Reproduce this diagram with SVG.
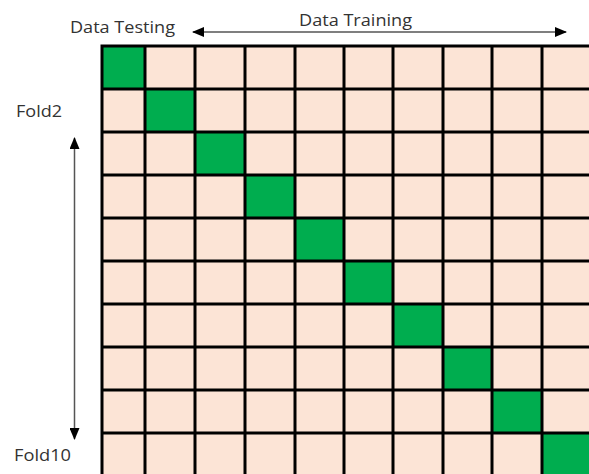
<svg xmlns="http://www.w3.org/2000/svg" width="589" height="474" viewBox="0 0 589 474">
  <defs>
    <style>
      .cell { fill: #FCE4D6; }
      .test { fill: #00AD4F; }
      .grid { stroke: #000; stroke-width: 3; fill: none; }
      .label { font-family: "Open Sans", "Liberation Sans", sans-serif; font-size: 16px; fill: #333; }
      .arrow { stroke: #555; stroke-width: 1.5; fill: none; }
    </style>
    <marker id="head" viewBox="0 0 12 10" refX="11" refY="5" markerWidth="12" markerHeight="10" markerUnits="userSpaceOnUse" orient="auto-start-reverse">
      <path d="M0,0 L12,5 L0,10 z" fill="#000"/>
    </marker>
  </defs>

  <rect width="589" height="474" fill="#fff"/>

  <!-- 10 x 10 fold grid -->
  <g id="grid">
    <rect class="cell" x="102" y="46" width="490" height="430"/>
    <g id="test-cells">
      <rect class="test" x="102" y="46" width="43" height="43"/>
      <rect class="test" x="145" y="89" width="50" height="43"/>
      <rect class="test" x="195" y="132" width="50" height="43"/>
      <rect class="test" x="245" y="175" width="50" height="43"/>
      <rect class="test" x="295" y="218" width="49" height="43"/>
      <rect class="test" x="344" y="261" width="49" height="43"/>
      <rect class="test" x="393" y="304" width="50" height="43"/>
      <rect class="test" x="443" y="347" width="49" height="43"/>
      <rect class="test" x="492" y="390" width="50" height="43"/>
      <rect class="test" x="542" y="433" width="50" height="43"/>
    </g>
    <path class="grid" d="M102,46 V476 M145,46 V476 M195,46 V476 M245,46 V476 M295,46 V476 M344,46 V476 M393,46 V476 M443,46 V476 M492,46 V476 M542,46 V476
                          M100.5,46 H592 M100.5,89 H592 M100.5,132 H592 M100.5,175 H592 M100.5,218 H592 M100.5,261 H592 M100.5,304 H592 M100.5,347 H592 M100.5,390 H592 M100.5,433 H592"/>
  </g>

  <!-- connectors -->
  <g id="connectors">
    <line class="arrow" x1="193" y1="32" x2="566" y2="32" marker-start="url(#head)" marker-end="url(#head)"/>
    <line class="arrow" x1="74.5" y1="138" x2="74.5" y2="439" marker-start="url(#head)" marker-end="url(#head)"/>
  </g>

  <g id="label-testing"><text class="label" x="70" y="33" textLength="105" lengthAdjust="spacingAndGlyphs">Data Testing</text></g>
  <g id="label-training"><text class="label" x="299" y="26" textLength="113" lengthAdjust="spacingAndGlyphs">Data Training</text></g>
  <g id="label-fold2"><text class="label" x="16" y="117" textLength="46" lengthAdjust="spacingAndGlyphs">Fold2</text></g>
  <g id="label-fold10"><text class="label" x="14" y="461" textLength="57" lengthAdjust="spacingAndGlyphs">Fold10</text></g>
</svg>
